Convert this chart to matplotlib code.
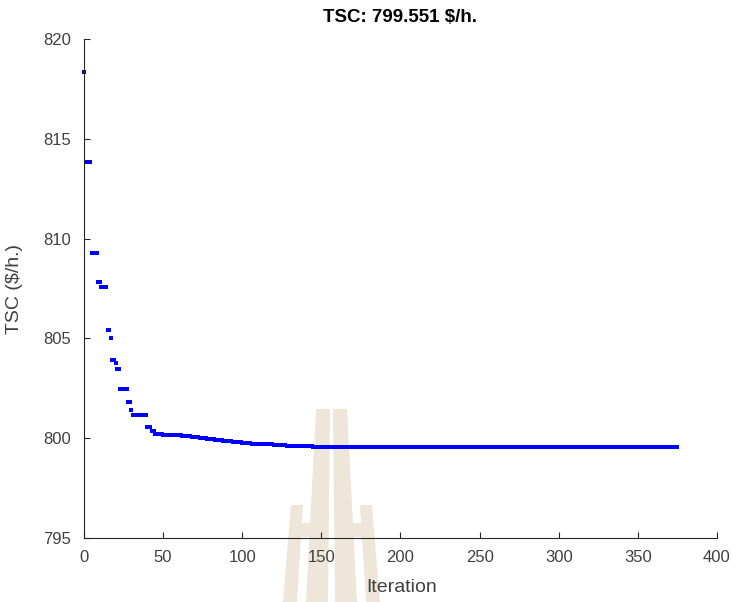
import numpy as np
import matplotlib
matplotlib.use("Agg")
import matplotlib.pyplot as plt
from matplotlib.patches import Polygon

# ---- data ----
level_start = [0, 1, 5, 9, 11, 15, 17, 18, 20, 21, 23, 28, 30, 31, 40, 43,
               45, 50, 56, 62, 68, 73, 78, 83, 88, 94, 100, 106, 112, 120,
               128, 136, 145, 251, 355]
level_value = [818.36, 813.85, 809.26, 807.81, 807.56, 805.42, 805.04, 803.92,
               803.78, 803.47, 802.47, 801.83, 801.41, 801.14, 800.58, 800.35,
               800.21, 800.18, 800.14, 800.11, 800.07, 800.03, 799.98, 799.93,
               799.87, 799.82, 799.77, 799.73, 799.70, 799.66, 799.63, 799.60,
               799.58, 799.565, 799.551]
last_iteration = 375
x_ticks = [0, 50, 100, 150, 200, 250, 300, 350, 400]
y_ticks = [795, 800, 805, 810, 815, 820]
title_text = "TSC: 799.551 $/h."
xlabel_text = "Iteration"
ylabel_text = "TSC ($/h.)"

# best-so-far value held at each iteration (step function of the levels)
iterations = np.arange(0, last_iteration + 1)
idx = np.searchsorted(level_start, iterations, side="right") - 1
tsc = np.array(level_value)[idx]

W, H = 736, 602
fig = plt.figure(figsize=(W / 100, H / 100), dpi=100)
fig.patch.set_facecolor("white")

# ---- background watermark (decorative) ----
def px(points):
    return [(x / W, 1 - y / H) for x, y in points]

wm_color = "#EEE6D8"
wm_shapes = [
    [(316, 409), (330, 409), (328, 602), (306, 602)],
    [(333, 409), (347, 409), (357, 602), (335, 602)],
    [(291, 505), (303, 505), (297, 602), (283, 602)],
    [(360, 505), (372, 505), (380, 602), (366, 602)],
    [(299, 523), (318, 523), (318, 537), (299, 537)],
    [(345, 523), (364, 523), (364, 537), (345, 537)],
]
for shp in wm_shapes:
    fig.add_artist(Polygon(px(shp), closed=True, facecolor=wm_color,
                           edgecolor="none", transform=fig.transFigure,
                           zorder=-1))

ax = fig.add_axes([84 / W, 64 / H, 633 / W, 499 / H])
ax.set_facecolor("none")

ax.plot(iterations, tsc, linestyle="none", marker="s", markersize=2.7,
        markeredgewidth=0, color="#0000FF", clip_on=False)

ax.set_xlim(0, 400)
ax.set_ylim(795, 820)
ax.set_xticks(x_ticks)
ax.set_yticks(y_ticks)

spine_col = "#262626"
label_col = "#404040"
for s in ["top", "right"]:
    ax.spines[s].set_visible(False)
for s in ["left", "bottom"]:
    ax.spines[s].set_color(spine_col)
    ax.spines[s].set_linewidth(0.8)

ax.tick_params(direction="in", length=4, width=0.8, color=spine_col,
               labelcolor=label_col, labelsize=12, pad=9)
for lab in ax.get_xticklabels() + ax.get_yticklabels():
    lab.set_fontfamily(["Liberation Sans", "DejaVu Sans"])

fig.text(400 / W, 1 - 17 / H, title_text, ha="center", va="center",
         fontsize=13.5, fontweight="bold", color="black",
         family=["Liberation Sans", "DejaVu Sans"])
fig.text(401.5 / W, 1 - 588 / H, xlabel_text, ha="center", va="center",
         fontsize=14, color=label_col, family=["Liberation Sans", "DejaVu Sans"])
fig.text(15 / W, 1 - 288.5 / H, ylabel_text, ha="center", va="center",
         rotation=90, fontsize=14, color=label_col,
         family=["Liberation Sans", "DejaVu Sans"])

fig.savefig("out.png", dpi=100, facecolor="white")
